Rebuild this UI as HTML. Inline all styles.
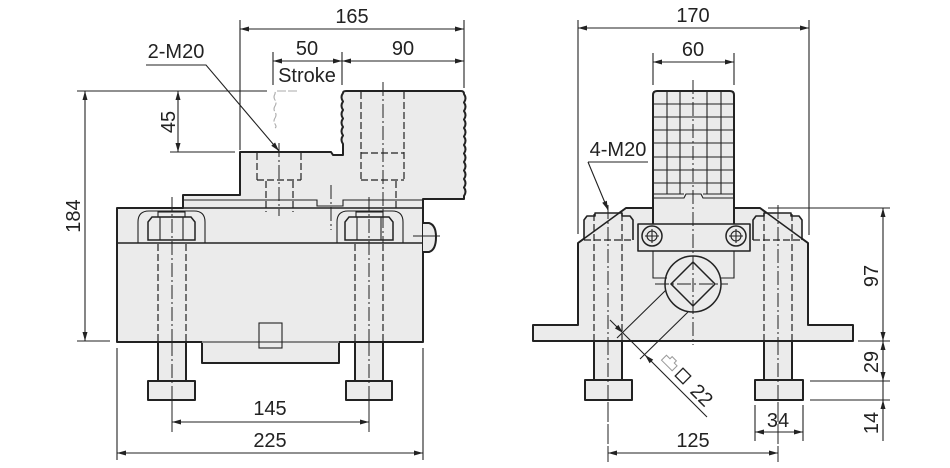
<!DOCTYPE html>
<html><head><meta charset="utf-8"><style>
html,body{margin:0;padding:0;background:#fff;}
svg{display:block;}
text{font-family:"Liberation Sans",Arial,sans-serif;font-size:20px;fill:#222;}
</style></head><body>
<svg width="950" height="468" viewBox="0 0 950 468" xmlns="http://www.w3.org/2000/svg">
<defs>
<style>
.o{fill:#ebebeb;stroke:#222;stroke-width:2;stroke-linejoin:round;}
.t{fill:none;stroke:#222;stroke-width:1.1;}
.m{fill:none;stroke:#222;stroke-width:1.5;}
.h{fill:none;stroke:#222;stroke-width:1.2;stroke-dasharray:7,3;}
.c{fill:none;stroke:#222;stroke-width:1;stroke-dasharray:14,3,2,3;}
.a{fill:#222;stroke:none;}
</style>
</defs>

<!-- ================= LEFT VIEW ================= -->
<!-- main silhouette -->
<path class="o" d="M117,208 H183 V195 H240 V152 H331 L333,155 H343 V144
q-3,-4.25 0,-8.5 q-3,-4.25 0,-8.5 q-3,-4.25 0,-8.5 q-3,-4.25 0,-8.5 q-3,-4.25 0,-8.5 q-3,-4.25 0,-8.5
Q343,91 346,91 H461 Q464,91 464,94
q3,4.25 0,8.5 q3,4.25 0,8.5 q3,4.25 0,8.5 q3,4.25 0,8.5 q3,4.25 0,8.5 q3,4.25 0,8.5
q3,4.25 0,8.5 q3,4.25 0,8.5 q3,4.25 0,8.5 q3,4.25 0,8.5 q3,4.25 0,8.5 q3,4.25 0,8.5
V199 H423 V342 H117 Z"/>
<!-- bottom recess -->
<rect class="o" x="202" y="342" width="137" height="21"/>
<line x1="202" y1="342" x2="339" y2="342" stroke="#ebebeb" stroke-width="1"/>
<rect class="t" x="259" y="323" width="23" height="25"/>
<!-- inner lines -->
<path class="m" d="M183,208 H423"/>
<path class="m" d="M117,243 H423"/>
<path class="t" d="M183,200 H317 V206 H343 V200 H423"/>
<!-- side knob -->
<path class="o" d="M423,223 H429 Q436,225 436,237 Q436,250 429,252 H423"/>
<line class="t" x1="413" y1="236" x2="440" y2="236"/>
<!-- ghost stroke outline -->
<path d="M297,91 H277 Q275,91 275,94 q-2,3 0,6 q2,3 0,6 q-2,3 0,6 q2,3 0,6 q-2,3 0,6 q2,3 0,4" fill="none" stroke="#aaa" stroke-width="1.1" stroke-dasharray="9,2"/>

<!-- pockets & nuts -->
<path class="t" d="M138,243 V222 Q138,211 149,211 H194 Q205,211 205,222 V243"/>
<path class="m" d="M148,240 V222 L152,217 H191 L195,222 V240 Z"/>
<path class="t" d="M160,217 V240 M183,217 V240"/>
<rect class="t" x="158" y="212" width="27" height="5"/>
<path class="t" d="M337,243 V222 Q337,211 348,211 H392 Q403,211 403,222 V243"/>
<path class="m" d="M345,240 V222 L349,217 H389 L393,222 V240 Z"/>
<path class="t" d="M357,217 V240 M381,217 V240"/>
<rect class="t" x="356" y="212" width="27" height="5"/>

<!-- hidden lines -->
<path class="h" d="M257,153 V180 M301,153 V180 M257,180 H301 M266,181 V212 M293,181 V212"/>
<path class="h" d="M361,92 V180 M404,92 V180 M361,153 H404 M361,180 H404 M396,181 V212"/>
<path class="h" d="M158,244 V341 M186,244 V341 M355,244 V341 M383,244 V341"/>
<!-- centerlines -->
<path class="c" d="M279,143 V216"/>
<path class="c" d="M383,82 V243"/>
<path class="c" d="M331,185 V230"/>
<path class="c" d="M172,197 V432"/>
<path class="c" d="M369,197 V432"/>

<!-- legs -->
<rect class="o" x="158" y="342" width="28" height="39"/>
<rect class="o" x="148" y="381" width="47" height="19"/>
<rect class="o" x="355" y="342" width="28" height="39"/>
<rect class="o" x="346" y="381" width="46" height="19"/>
<path class="c" d="M172,342 V432 M369,342 V432"/>

<!-- dimensions left -->
<path class="t" d="M240,20 V150 M464,20 V88 M240,29 H464"/>
<polygon class="a" points="240,29 249,26.5 249,31.5"/>
<polygon class="a" points="464,29 455,26.5 455,31.5"/>
<text x="352" y="23" text-anchor="middle">165</text>

<path class="t" d="M273,52 V85 M342,52 V85 M273,61 H464"/>
<polygon class="a" points="273,61 282,58.5 282,63.5"/>
<polygon class="a" points="342,61 333,58.5 333,63.5"/>
<polygon class="a" points="342,61 351,58.5 351,63.5"/>
<polygon class="a" points="464,61 455,58.5 455,63.5"/>
<text x="307" y="55" text-anchor="middle">50</text>
<text x="403" y="55" text-anchor="middle">90</text>
<text x="307" y="82" text-anchor="middle">Stroke</text>

<path class="t" d="M146,65 H206 L279,151"/>
<polygon class="a" points="279,151 271.3,145.7 275.1,142.5"/>
<text x="176" y="58" text-anchor="middle">2-M20</text>

<path class="t" d="M77,91 H267 M77,341 H110 M85,91 V341"/>
<polygon class="a" points="85,91 82.5,100 87.5,100"/>
<polygon class="a" points="85,341 82.5,332 87.5,332"/>
<text transform="translate(80,216) rotate(-90)" text-anchor="middle">184</text>

<path class="t" d="M170,152 H235 M178,91 V152"/>
<polygon class="a" points="178,91 175.5,100 180.5,100"/>
<polygon class="a" points="178,152 175.5,143 180.5,143"/>
<text transform="translate(175,122) rotate(-90)" text-anchor="middle">45</text>

<path class="t" d="M172,422 H369"/>
<polygon class="a" points="172,422 181,419.5 181,424.5"/>
<polygon class="a" points="369,422 360,419.5 360,424.5"/>
<text x="270" y="415" text-anchor="middle">145</text>

<path class="t" d="M117,348 V460 M423,348 V460 M117,453 H423"/>
<polygon class="a" points="117,453 126,450.5 126,455.5"/>
<polygon class="a" points="423,453 414,450.5 414,455.5"/>
<text x="270" y="447" text-anchor="middle">225</text>

<!-- ================= RIGHT VIEW ================= -->
<path class="o" d="M533,325 H578 V243 L626,208 H760 L808,243 V325 H853 V341 H533 Z"/>
<!-- nut outlines at top -->
<path class="o" style="stroke-width:1.6" d="M584,240 V220 L587,216 H595 V213 H622 V216 H630 L633,220 V240"/>
<path class="o" style="stroke-width:1.6" d="M802,240 V220 L799,216 H791 V213 H764 V216 H756 L753,220 V240"/>
<path class="m" d="M578,243 L626,208 M808,243 L760,208"/>
<!-- jaw -->
<path class="o" d="M653,224 V95 Q653,91 657,91 H730 Q734,91 734,95 V224"/>
<path class="t" d="M667,91 V194 M680,91 V194 M707,91 V194 M721,91 V194"/>
<path class="t" d="M653,104 H734 M653,117 H734 M653,130 H734 M653,143 H734 M653,157 H734 M653,170 H734 M653,183 H734 M653,194 H684 M703,194 H734"/>
<path class="t" d="M653,198 H684 L686,194 H701 L703,198 H734"/>
<!-- bracket -->
<rect class="o" x="638" y="224" width="112" height="27" style="stroke-width:1.6"/>
<circle class="m" cx="652" cy="236" r="10" fill="#ebebeb"/>
<circle class="t" cx="652" cy="236" r="5"/>
<path class="t" d="M645,236 H659 M652,229 V243"/>
<circle class="m" cx="736" cy="236" r="10" fill="#ebebeb"/>
<circle class="t" cx="736" cy="236" r="5"/>
<path class="t" d="M729,236 H743 M736,229 V243"/>
<path class="t" d="M653,251 V278 H667 M734,251 V278 H720"/>
<!-- round + diamond -->
<circle class="m" cx="693" cy="284" r="28" fill="#ebebeb"/>
<path class="m" d="M693,262 L715,284 L693,306 L671,284 Z"/>
<path class="c" d="M655,284 H728"/>
<path class="c" d="M693,80 V345"/>
<!-- hidden lines right view -->
<path class="h" d="M594,214 V341 M622,214 V341 M584,240 H633"/>
<path class="h" d="M764,214 V341 M792,214 V341 M753,240 H802"/>
<path class="c" d="M608,205 V462 M778,205 V462"/>
<!-- legs -->
<rect class="o" x="594" y="341" width="28" height="39"/>
<rect class="o" x="585" y="380" width="47" height="20"/>
<rect class="o" x="764" y="341" width="28" height="39"/>
<rect class="o" x="755" y="380" width="48" height="20"/>
<path class="c" d="M608,341 V462 M778,341 V462"/>

<!-- square 22 dimension -->
<path class="t" d="M666,290 L617,338 M688,312 L640,359 M610,320 L707,417"/>
<polygon class="a" points="623,333 614.9,328.4 618.4,324.9"/>
<polygon class="a" points="645,355 649.6,363.2 653.2,359.6"/>
<g transform="translate(670,363) rotate(45)">
<path d="M-8,-3 H-3 V-6 H3 V-3 H7 V4 H-8 Z" fill="none" stroke="#999" stroke-width="1"/>
</g>
<rect x="-5.5" y="-5.5" width="11" height="11" fill="none" stroke="#222" stroke-width="1.3" transform="translate(683,376) rotate(45)"/>
<text transform="translate(697,400) rotate(45)" text-anchor="middle">22</text>

<!-- dims right -->
<path class="t" d="M578,20 V234 M809,20 V235 M578,28 H809"/>
<polygon class="a" points="578,28 587,25.5 587,30.5"/>
<polygon class="a" points="809,28 800,25.5 800,30.5"/>
<text x="693" y="22" text-anchor="middle">170</text>

<path class="t" d="M653,53 V85 M734,53 V85 M653,62 H734"/>
<polygon class="a" points="653,62 662,59.5 662,64.5"/>
<polygon class="a" points="734,62 725,59.5 725,64.5"/>
<text x="693" y="56" text-anchor="middle">60</text>

<path class="t" d="M588,162 H648 M588,162 L608,210"/>
<polygon class="a" points="608,210 602.2,202.7 606.8,200.7"/>
<text x="618" y="156" text-anchor="middle">4-M20</text>

<path class="t" d="M608,453 H778"/>
<polygon class="a" points="608,453 617,450.5 617,455.5"/>
<polygon class="a" points="778,453 769,450.5 769,455.5"/>
<text x="693" y="447" text-anchor="middle">125</text>

<path class="t" d="M755,405 V441 M803,405 V441 M755,432 H803"/>
<polygon class="a" points="755,432 764,429.5 764,434.5"/>
<polygon class="a" points="803,432 794,429.5 794,434.5"/>
<text x="778" y="427" text-anchor="middle">34</text>

<path class="t" d="M768,208 H890 M858,341 H890 M810,381 H890 M810,400 H890 M883,208 V441"/>
<polygon class="a" points="883,208 880.5,217 885.5,217"/>
<polygon class="a" points="883,341 880.5,332 885.5,332"/>
<polygon class="a" points="883,341 880.5,350 885.5,350"/>
<polygon class="a" points="883,381 880.5,372 885.5,372"/>
<polygon class="a" points="883,400 880.5,409 885.5,409"/>
<text transform="translate(878,276) rotate(-90)" text-anchor="middle">97</text>
<text transform="translate(878,362) rotate(-90)" text-anchor="middle">29</text>
<text transform="translate(878,423) rotate(-90)" text-anchor="middle">14</text>
</svg>
</body></html>
